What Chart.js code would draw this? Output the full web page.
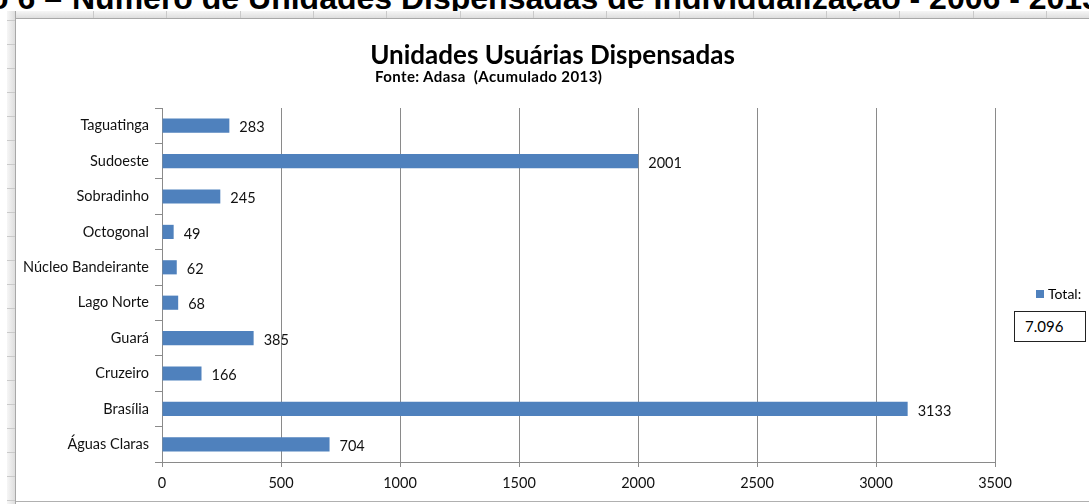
<!DOCTYPE html>
<html lang="pt-BR">
<head>
<meta charset="utf-8">
<title>Unidades Usuárias Dispensadas</title>
<script src="https://cdn.jsdelivr.net/npm/chart.js@4/dist/chart.umd.min.js"></script>
<style>
  html, body { margin: 0; padding: 0; }
  body { width: 1089px; height: 504px; overflow: hidden; position: relative; background: #fff; font-family: Lato, sans-serif; }
  .heading { position: absolute; top: -18px; font: bold 32px/32px "Liberation Sans", Arial, sans-serif; color: #000; white-space: nowrap; }
  .heading.pre { right: calc(100% - 62px); }
  .heading.main { left: 72px; }
  .ruler-top { position: absolute; left: 7px; top: 11px; width: 1082px; height: 7px; background: linear-gradient(#f6f6f6, #dedede); border-bottom: 1px solid #a8a8a8; }
  .ruler-left { position: absolute; left: 7px; top: 11px; width: 8px; height: 493px; background: linear-gradient(90deg, #f6f6f6, #dedede); border-right: 1px solid #a8a8a8; }
  .ruler-top i { position: absolute; top: 0; width: 1px; height: 7px; background: #cacaca; }
  .ruler-left i { position: absolute; left: 0; height: 1px; width: 8px; background: #cacaca; }
  .frame { position: absolute; left: 16px; top: 19px; width: 1073px; height: 482px; background: #fff; border-bottom: 1px solid #b0b0b0; }
  .title { position: absolute; color: #000; font-weight: bold; white-space: nowrap; line-height: 1.2; }
  .title.t1 { left: 0; width: 1073px; text-align: center; top: 20px; font-size: 26px; }
  .title.t2 { left: 359px; top: 48px; font-size: 15px; letter-spacing: 0.4px; }
  canvas { position: absolute; left: 0; top: 0; }
  .legend { position: absolute; left: 1020px; top: 266px; font-size: 14px; color: #000; white-space: nowrap; }
  .legend span { display: inline-block; width: 8px; height: 8px; background: #4F81BD; margin-right: 4px; vertical-align: 1px; }
  .total-box { position: absolute; left: 998px; top: 292px; width: 60px; height: 29px; border: 1px solid #222; background: #fff; font-size: 15px; line-height: 29px; padding-left: 10px; }
</style>
</head>
<body>
<div class="heading pre">Gráfico 6 –</div>
<div class="heading main">Número de Unidades Dispensadas de Individualização - 2006 - 2013</div>
<div class="ruler-top" id="rulerTop"></div>
<div class="ruler-left" id="rulerLeft"></div>
<div class="frame">
  <canvas id="chart" width="1073" height="482"></canvas>
  <div class="title t1">Unidades Usuárias Dispensadas</div>
  <div class="title t2">Fonte: Adasa&nbsp; (Acumulado 2013)</div>
  <div class="legend"><span></span>Total:</div>
  <div class="total-box" id="totalBox"></div>
</div>
<script>
// regiões administrativas, de cima para baixo
const regioes = ['Taguatinga', 'Sudoeste', 'Sobradinho', 'Octogonal', 'Núcleo Bandeirante',
  'Lago Norte', 'Guará', 'Cruzeiro', 'Brasília', 'Águas Claras'];
const unidades = [283, 2001, 245, 49, 62, 68, 385, 166, 3133, 704];
const eixoX = { min: 0, max: 3500, passo: 500 };

const azul = '#4F81BD';
const cinza = '#8a8a8a';
const fonte = { family: 'Lato, sans-serif', size: 14.5 };

// enfeites da moldura do Excel
const rt = document.getElementById('rulerTop');
for (let x = 86; x < 1082; x += 73.3) {
  const i = document.createElement('i'); i.style.left = Math.round(x) + 'px'; rt.appendChild(i);
}
const rl = document.getElementById('rulerLeft');
for (let y = 9; y < 493; y += 24) {
  const i = document.createElement('i'); i.style.top = y + 'px'; rl.appendChild(i);
}

const total = unidades.reduce((a, b) => a + b, 0);
document.getElementById('totalBox').textContent = total.toLocaleString('pt-BR');

// rótulo com o valor no fim de cada barra
const rotulos = {
  id: 'rotulos',
  afterDatasetsDraw(chart) {
    const ctx = chart.ctx;
    ctx.save();
    ctx.font = `${fonte.size}px ${fonte.family}`;
    ctx.fillStyle = '#111';
    ctx.textAlign = 'left';
    ctx.textBaseline = 'middle';
    chart.getDatasetMeta(0).data.forEach((bar, i) => {
      ctx.fillText(String(unidades[i]), bar.x + 10, bar.y + 2);
    });
    ctx.restore();
  }
};

new Chart(document.getElementById('chart'), {
  type: 'bar',
  data: {
    labels: regioes,
    datasets: [{
      label: 'Total:',
      data: unidades,
      backgroundColor: azul,
      borderWidth: 0,
      barPercentage: 0.4,
      categoryPercentage: 1
    }]
  },
  options: {
    indexAxis: 'y',
    responsive: false,
    animation: false,
    layout: { padding: { left: 0, right: 94, top: 89, bottom: 0 } },
    plugins: {
      legend: { display: false },
      title: { display: false },
      tooltip: { enabled: false }
    },
    scales: {
      x: {
        min: eixoX.min,
        max: eixoX.max,
        ticks: { stepSize: eixoX.passo, font: fonte, color: '#111', padding: 8, callback: v => String(v) },
        grid: { color: cinza, tickLength: 5, tickColor: cinza },
        border: { color: cinza },
        afterFit(s) { s.height = 39; }
      },
      y: {
        ticks: { font: fonte, color: '#111', padding: 6 },
        grid: { offset: true, drawOnChartArea: false, tickLength: 7, color: cinza },
        border: { color: cinza },
        afterFit(s) { s.width = 146; }
      }
    }
  },
  plugins: [rotulos]
});
</script>
</body>
</html>
